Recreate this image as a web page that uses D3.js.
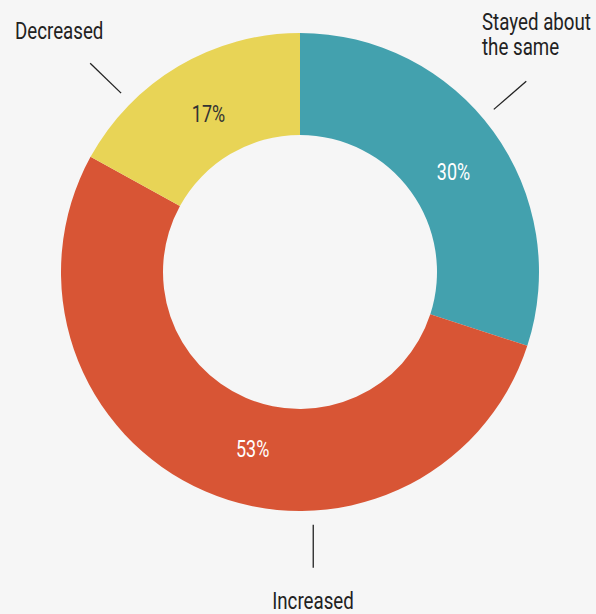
<!DOCTYPE html>
<html>
<head>
<meta charset="utf-8">
<script src="https://cdn.jsdelivr.net/npm/d3@7"></script>
<style>
  html, body { margin: 0; padding: 0; background: #f6f6f6; }
  svg { display: block; }
</style>
</head>
<body>
<svg id="chart" width="596" height="614"></svg>
<script>
// Survey answer shares, drawn clockwise from 12 o'clock
const categories = ["Stayed about the same", "Increased", "Decreased"];
const values = [30, 53, 17];
const valueLabels = ["30%", "53%", "17%"];
const categoryLines = [["Stayed about", "the same"], ["Increased"], ["Decreased"]];
const colors = ["#43a1ae", "#d85535", "#e8d456"];

const W = 596, H = 614;
const cx = 300, cy = 272;
const outerR = 239, innerR = 137;
const toRad = Math.PI / 180;

// Callout placement per slice: where the leader starts (deg, clockwise from top),
// which way it points, and where the percentage label sits
const calloutAngle = [50, 177, 315];
const leaderDir = [49, 180, 314];
const pctAngle = [57, 195, 330];
const pctRadius = 183;
const leaderR0 = 253, leaderLen = 43;

const svg = d3.select("#chart");
const g = svg.append("g").attr("transform", `translate(${cx},${cy})`);

const pie = d3.pie().sort(null).value(d => d)(values);
const arc = d3.arc().innerRadius(innerR).outerRadius(outerR);

g.selectAll("path.slice")
  .data(pie)
  .join("path")
  .attr("class", "slice")
  .attr("d", arc)
  .attr("fill", (d, i) => colors[i]);

const polar = (deg, r) => [r * Math.sin(deg * toRad), -r * Math.cos(deg * toRad)];

function condensedText(sel, x, y, anchor, sx) {
  sel.attr("transform", `translate(${x},${y}) scale(${sx},1)`)
     .attr("text-anchor", anchor);
}

// Percentages inside the ring
pie.forEach((d, i) => {
  const [x, y] = polar(pctAngle[i], pctRadius);
  g.append("text")
    .call(condensedText, x, y + 8, "middle", 0.78)
    .attr("font-family", "Roboto, sans-serif")
    .attr("font-size", 23)
    .attr("fill", i === 2 ? "#333" : "#fff")
    .text(valueLabels[i]);
});

// Leader lines
pie.forEach((d, i) => {
  const [x0, y0] = polar(calloutAngle[i], leaderR0);
  const [dx, dy] = polar(leaderDir[i], leaderLen);
  g.append("line")
    .attr("x1", x0).attr("y1", y0)
    .attr("x2", x0 + dx).attr("y2", y0 + dy)
    .attr("stroke", "#222")
    .attr("stroke-width", 1.3);
});

// Category names at the ends of the leaders
const nameSpots = [
  { x: 482, y: 30, anchor: "start" },
  { x: 313, y: 609, anchor: "middle" },
  { x: 15, y: 39, anchor: "start" }
];
categoryLines.forEach((lines, i) => {
  lines.forEach((line, j) => {
    svg.append("text")
      .call(condensedText, nameSpots[i].x, nameSpots[i].y + j * 25, nameSpots[i].anchor, 0.78)
      .attr("font-family", "Roboto, sans-serif")
      .attr("font-size", 24)
      .attr("fill", "#222")
      .text(line);
  });
});
</script>
</body>
</html>
